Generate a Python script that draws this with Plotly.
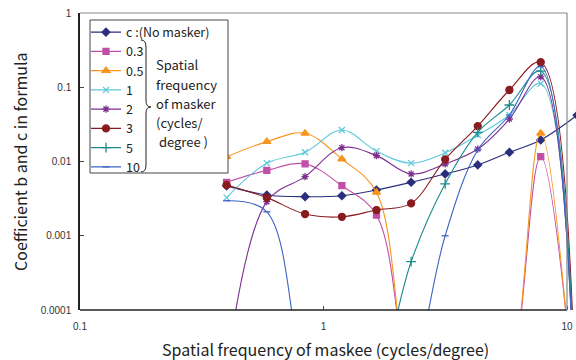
import plotly.graph_objects as go

# Spatial frequency of the maskee (cycles/degree)
freq = [0.4, 0.585, 0.84, 1.19, 1.65, 2.29, 3.16, 4.3, 5.8, 7.8, 11.0]

# Coefficient c (no masker) and coefficient b for each masker frequency
c_none = [0.0047, 0.00354, 0.00336, 0.00346, 0.00413, 0.00525, 0.0068, 0.009, 0.0133, 0.0195, 0.042]
b_03 = [0.00525, 0.0076, 0.0093, 0.00472, 0.0019, 8e-6, 1e-6, 1e-6, 8.5e-6, 0.0116, 2.5e-6]
b_05 = [0.0116, 0.0185, 0.024, 0.0108, 0.00385, 7e-6, 1e-6, 1e-6, 8.5e-6, 0.024, 1.4e-6]
b_1 = [0.00326, 0.0095, 0.0133, 0.0266, 0.0138, 0.0095, 0.0131, 0.0227, 0.0423, 0.112, 5e-7]
b_2 = [1.6e-5, 0.00288, 0.00625, 0.01535, 0.012, 0.0068, 0.00925, 0.0147, 0.0373, 0.138, 1.3e-6]
b_3 = [0.00483, 0.00326, 0.00196, 0.0018, 0.00222, 0.00273, 0.0107, 0.030, 0.0918, 0.217, 1e-6]
b_5 = [1e-6, 1e-6, 1e-6, 1e-6, 8e-6, 0.000447, 0.005, 0.0247, 0.0577, 0.165, 1.2e-6]
b_10 = [0.00296, 0.0021, 1.1e-5, 1e-6, 1e-6, 1e-5, 0.001, 0.0143, 0.0423, 0.19, 1e-6]

series_names = ["c :(No masker)", "0.3", "0.5", "1", "2", "3", "5", "10"]
series_values = [c_none, b_03, b_05, b_1, b_2, b_3, b_5, b_10]

y_tickvals = [0.0001, 0.001, 0.01, 0.1, 1]
y_ticktext = ["0.0001", "0.001", "0.01", "0.1", "1"]
x_tickvals = [0.1, 1, 10]
x_ticktext = ["0.1", "1", "10"]

masker_note = ["Spatial", "frequency", "of masker", "(cycles/", "\u00a0degree )"]

colors = ["#2B2E7C", "#C24FA7", "#F7941D", "#5CC9D9", "#7E2F8E", "#8A1B1E", "#1B8B8B", "#3C63C6"]
symbols = ["diamond", "square", "triangle-up", "x-thin-open", "asterisk-open",
           "circle", "cross-thin-open", "line-ew-open"]
sizes = [6, 6, 7, 6, 6, 7, 7, 5]

W, H = 576, 360
L, R, T, B = 80, 0, 13, 50
plot_w = W - L - R
plot_h = H - T - B


def px(xp):
    return (xp - L) / plot_w


def py(yp):
    return (H - B - yp) / plot_h


FONT = "Noto Sans CJK JP"

fig = go.Figure()
for name, vals, col, sym, sz in zip(series_names, series_values, colors, symbols, sizes):
    fig.add_trace(go.Scatter(
        x=freq, y=vals, name=name, mode="lines+markers",
        line=dict(color=col, width=1.1, shape="spline", smoothing=1.0, simplify=False),
        marker=dict(color=col, symbol=sym, size=sz, line=dict(color=col, width=1.3)),
        cliponaxis=True,
    ))

decades = plot_w / 243.5
x_end = -1 + decades
x10 = 2 / decades  # paper position of x = 10

fig.update_layout(
    width=W, height=H,
    margin=dict(l=L, r=R, t=T, b=B),
    paper_bgcolor="white", plot_bgcolor="white",
    font=dict(family=FONT, color="#222"),
    showlegend=True,
    legend=dict(
        x=px(86), y=py(17.5), xanchor="left", yanchor="top",
        bgcolor="rgba(0,0,0,0)", borderwidth=0,
        font=dict(family=FONT, size=12.5, color="#222"),
        tracegroupgap=0,
    ),
    xaxis=dict(
        type="log", range=[-1, x_end],
        tickvals=x_tickvals, ticktext=x_ticktext,
        ticks="inside", ticklen=4, tickcolor="#444",
        showgrid=False, zeroline=False, showline=False,
        tickfont=dict(family="Liberation Sans", size=10, color="#333"),
        ticklabelstandoff=9,
    ),
    yaxis=dict(
        type="log", range=[-4, 0],
        tickvals=y_tickvals, ticktext=y_ticktext,
        ticks="inside", ticklen=4, tickcolor="#444",
        showgrid=False, zeroline=False,
        showline=True, linecolor="#222", linewidth=1.5,
        tickfont=dict(family="Liberation Sans", size=10, color="#333"),
        ticklabelstandoff=5,
    ),
)

# Frame of the 0.1–10 region
fig.add_shape(type="line", xref="paper", yref="paper", x0=0, x1=x10, y0=0, y1=0,
              line=dict(color="#222", width=1.5))
fig.add_shape(type="line", xref="paper", yref="paper", x0=0, x1=x10, y0=1, y1=1,
              line=dict(color="#888", width=1.2))
fig.add_shape(type="line", xref="paper", yref="paper", x0=x10, x1=x10, y0=0, y1=1,
              line=dict(color="#888", width=1.2))

# Legend box, wide enough to hold the masker note
fig.add_shape(type="rect", xref="paper", yref="paper",
              x0=px(90), x1=px(228), y0=py(173), y1=py(20),
              line=dict(color="#444", width=1), fillcolor="white", layer="above")

# Curly brace grouping the masker entries
pts = [(141, 40), (146, 40), (146, 47), (146, 101), (146, 107), (151, 107),
       (146, 107), (146, 113), (146, 165), (146, 172), (141, 172)]
p = [(px(a), py(b)) for a, b in pts]
brace = (f"M{p[0][0]},{p[0][1]} Q{p[1][0]},{p[1][1]} {p[2][0]},{p[2][1]} "
         f"L{p[3][0]},{p[3][1]} Q{p[4][0]},{p[4][1]} {p[5][0]},{p[5][1]} "
         f"Q{p[6][0]},{p[6][1]} {p[7][0]},{p[7][1]} L{p[8][0]},{p[8][1]} "
         f"Q{p[9][0]},{p[9][1]} {p[10][0]},{p[10][1]}")
fig.add_shape(type="path", xref="paper", yref="paper", path=brace,
              line=dict(color="#222", width=1), layer="above")

for txt, yc in zip(masker_note, [64.7, 84.2, 103.4, 122.6, 141.8]):
    fig.add_annotation(text=txt, xref="paper", yref="paper", x=px(155), y=py(yc),
                       xanchor="left", yanchor="middle", showarrow=False, borderpad=0,
                       font=dict(family=FONT, size=13, color="#222"))

# Axis titles
fig.add_annotation(text="Coefficient b and c in formula", xref="paper", yref="paper",
                   x=px(20), y=py(162), textangle=-90, showarrow=False,
                   xanchor="center", yanchor="middle",
                   font=dict(family=FONT, size=16, color="#222"))
fig.add_annotation(text="Spatial frequency of maskee (cycles/degree)", xref="paper", yref="paper",
                   x=px(325), y=py(349), showarrow=False,
                   xanchor="center", yanchor="middle",
                   font=dict(family=FONT, size=16, color="#222"))

fig.write_html("out.html")
